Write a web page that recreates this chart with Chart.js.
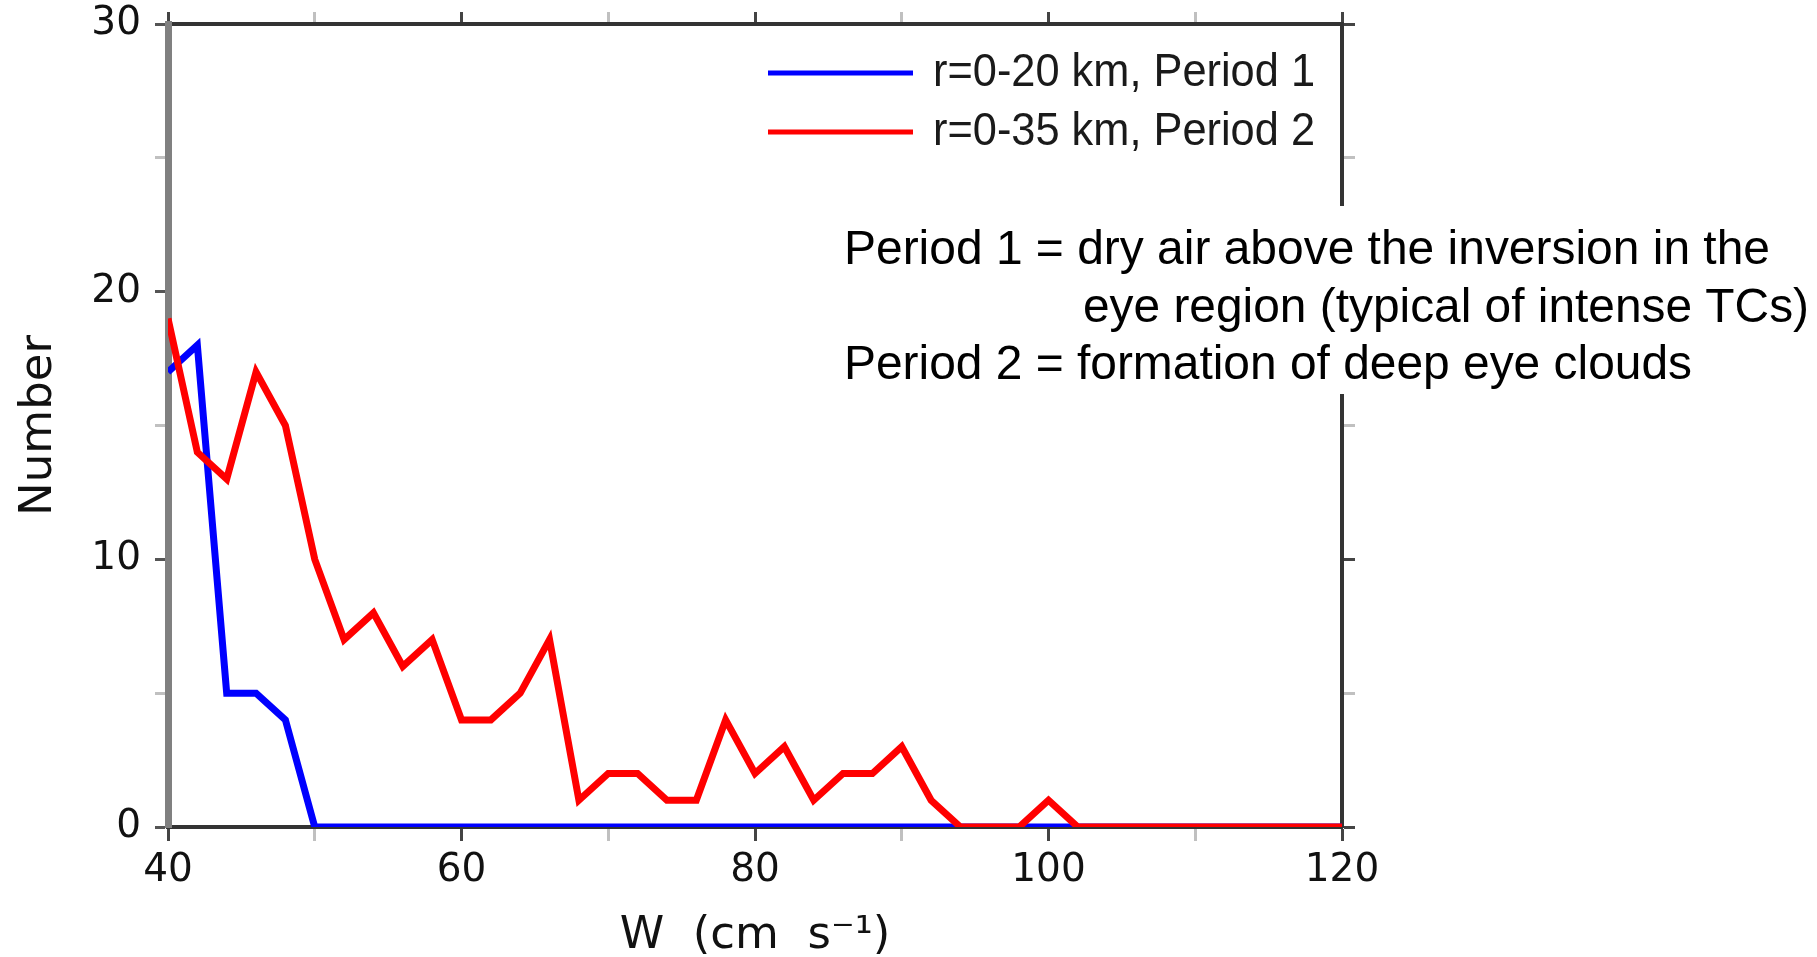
<!DOCTYPE html>
<html>
<head>
<meta charset="utf-8">
<script src="https://cdn.jsdelivr.net/npm/chart.js@4.4.0/dist/chart.umd.min.js"></script>
<style>
  html, body { margin: 0; padding: 0; background: #ffffff; }
  #wrap { width: 1817px; height: 957px; }
</style>
</head>
<body>
<div id="wrap"><canvas id="histChart" width="1817" height="957"></canvas></div>
<script>
// W bins (cm s-1)
const wBins = [40, 42, 44, 46, 48, 50, 52, 54, 56, 58, 60, 62, 64, 66, 68, 70, 72, 74, 76, 78,
  80, 82, 84, 86, 88, 90, 92, 94, 96, 98, 100, 102, 104, 106, 108, 110, 112, 114, 116, 118, 120];

// r=0-20 km, Period 1
const period1Counts = [17, 18, 5, 5, 4, 0, 0, 0, 0, 0, 0, 0, 0, 0, 0, 0, 0, 0, 0, 0,
  0, 0, 0, 0, 0, 0, 0, 0, 0, 0, 0, 0, 0, 0, 0, 0, 0, 0, 0, 0, 0];

// r=0-35 km, Period 2
const period2Counts = [19, 14, 13, 17, 15, 10, 7, 8, 6, 7, 4, 4, 5, 7, 1, 2, 2, 1, 1, 4,
  2, 3, 1, 2, 2, 3, 1, 0, 0, 0, 1, 0, 0, 0, 0, 0, 0, 0, 0, 0, 0];

const seriesLabels = ['r=0-20 km, Period 1', 'r=0-35 km, Period 2'];
const seriesColors = ['#0000ff', '#ff0000'];

const xTicksMajor = [40, 60, 80, 100, 120];
const yTicksMajor = [0, 10, 20, 30];

const noteLines = [
  'Period 1 = dry air above the inversion in the',
  'eye region (typical of intense TCs)',
  'Period 2 = formation of deep eye clouds'
];

const tickFont = { family: 'DejaVu Sans', size: 39, weight: 'normal' };
const titleFont = { family: 'DejaVu Sans', size: 45, weight: 'normal' };

function toPoints(ys) {
  return wBins.map((x, i) => ({ x, y: ys[i] }));
}

function minorColor(major, majorCol) {
  return (ctx) => major.includes(ctx.tick && ctx.tick.value) ? majorCol : '#c0c0c0';
}

function fixHeight(h) {
  return (s) => { s.height = h; s.paddingLeft = 0; s.paddingRight = 0; };
}

function fixWidth(w) {
  return (s) => { s.width = w; s.paddingTop = 0; s.paddingBottom = 0; };
}

// legend drawn inside the plot, top right
const insideLegend = {
  id: 'insideLegend',
  afterDraw(chart) {
    const { ctx, chartArea } = chart;
    ctx.save();
    seriesLabels.forEach((label, i) => {
      const y = chartArea.top + 49 + i * 59;
      ctx.strokeStyle = seriesColors[i];
      ctx.lineWidth = 5;
      ctx.beginPath();
      ctx.moveTo(chartArea.right - 574, y);
      ctx.lineTo(chartArea.right - 429, y);
      ctx.stroke();
      ctx.fillStyle = '#1a1a1a';
      ctx.font = '46px "Liberation Sans Narrow", "Liberation Sans", sans-serif';
      ctx.textBaseline = 'middle';
      ctx.fillText(label, chartArea.right - 409, y, 382);
    });
    ctx.restore();
  }
};

// note box overlapping the right frame
const noteBox = {
  id: 'noteBox',
  afterDraw(chart) {
    const { ctx, width } = chart;
    ctx.save();
    ctx.fillStyle = '#ffffff';
    ctx.fillRect(830, 206, width - 830, 188);
    ctx.fillStyle = '#000000';
    ctx.font = '48px "Liberation Sans", Arial, sans-serif';
    ctx.textBaseline = 'middle';
    ctx.fillText(noteLines[0], 844, 251, 926);
    ctx.fillText(noteLines[1], 1083, 309, 726);
    ctx.fillText(noteLines[2], 844, 366, 848);
    ctx.restore();
  }
};

const ctx = document.getElementById('histChart').getContext('2d');
new Chart(ctx, {
  type: 'line',
  data: {
    datasets: [
      {
        label: seriesLabels[0],
        data: toPoints(period1Counts),
        borderColor: seriesColors[0],
        borderWidth: 7,
        pointRadius: 0,
        tension: 0,
        order: 2
      },
      {
        label: seriesLabels[1],
        data: toPoints(period2Counts),
        borderColor: seriesColors[1],
        borderWidth: 7,
        pointRadius: 0,
        tension: 0,
        order: 1
      }
    ]
  },
  options: {
    responsive: false,
    animation: false,
    layout: { padding: 0 },
    plugins: {
      legend: { display: false },
      tooltip: { enabled: false }
    },
    scales: {
      x: {
        type: 'linear',
        position: 'bottom',
        min: 40,
        max: 120,
        afterFit: fixHeight(130),
        ticks: {
          stepSize: 10,
          autoSkip: false,
          maxRotation: 0,
          padding: 6,
          color: '#111111',
          font: tickFont,
          callback: (v) => xTicksMajor.includes(v) ? String(v) : ''
        },
        grid: {
          drawOnChartArea: false,
          drawTicks: true,
          tickLength: 14,
          tickWidth: 3,
          tickColor: minorColor(xTicksMajor, '#444444')
        },
        border: { display: true, color: '#333333', width: 4 },
        title: {
          display: true,
          text: 'W  (cm  s\u207B\u00B9)',
          color: '#111111',
          font: titleFont,
          padding: { top: 0, bottom: -6 }
        }
      },
      xTop: {
        type: 'linear',
        position: 'top',
        min: 40,
        max: 120,
        afterFit: fixHeight(24),
        ticks: { display: false, stepSize: 10 },
        grid: {
          drawOnChartArea: false,
          drawTicks: true,
          tickLength: 12,
          tickWidth: 3,
          tickColor: minorColor(xTicksMajor, '#444444')
        },
        border: { display: true, color: '#333333', width: 4 }
      },
      y: {
        type: 'linear',
        position: 'left',
        min: 0,
        max: 30,
        afterFit: fixWidth(168),
        ticks: {
          stepSize: 5,
          autoSkip: false,
          padding: 14,
          color: '#111111',
          font: tickFont,
          callback: (v) => yTicksMajor.includes(v) ? String(v) : ''
        },
        grid: {
          drawOnChartArea: false,
          drawTicks: true,
          tickLength: 13,
          tickWidth: 3,
          tickColor: minorColor(yTicksMajor, '#555555')
        },
        border: { display: true, color: '#808080', width: 7 },
        title: {
          display: true,
          text: 'Number',
          color: '#111111',
          font: titleFont,
          padding: { top: 12, bottom: 0 }
        }
      },
      yRight: {
        type: 'linear',
        position: 'right',
        min: 0,
        max: 30,
        afterFit: fixWidth(475),
        ticks: { display: false, stepSize: 5 },
        grid: {
          drawOnChartArea: false,
          drawTicks: true,
          tickLength: 13,
          tickWidth: 3,
          tickColor: minorColor(yTicksMajor, '#444444')
        },
        border: { display: true, color: '#333333', width: 4 }
      }
    }
  },
  plugins: [insideLegend, noteBox]
});
</script>
</body>
</html>
